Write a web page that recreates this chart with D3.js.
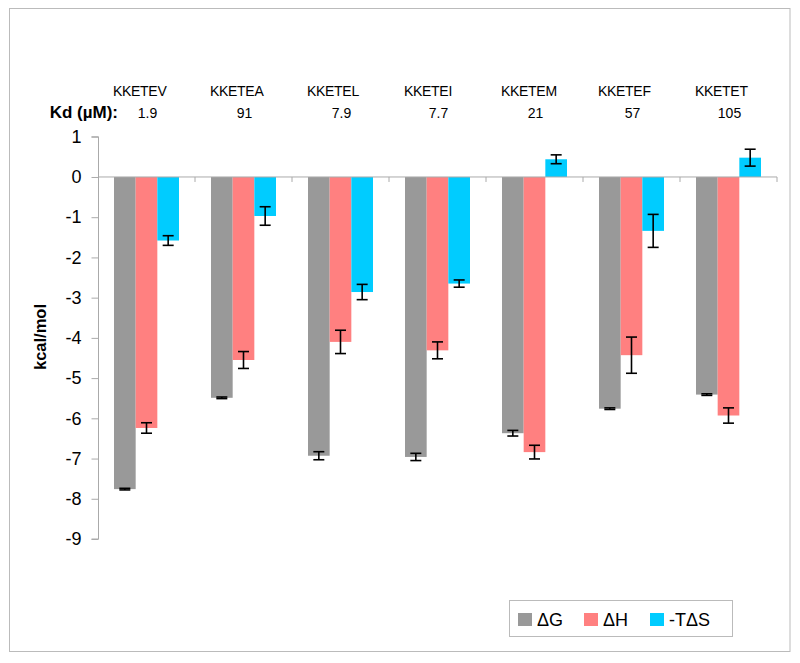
<!DOCTYPE html>
<html><head><meta charset="utf-8">
<script src="https://cdn.jsdelivr.net/npm/d3@7"></script>
<style>body{margin:0;background:#fff;}svg{display:block;font-family:"Liberation Sans",Arial,Helvetica,sans-serif;}</style>
</head><body><svg id="c" width="800" height="663"></svg>
<script>
const peptides = ["KKETEV","KKETEA","KKETEL","KKETEI","KKETEM","KKETEF","KKETET"];
const kdValues = ["1.9","91","7.9","7.7","21","57","105"];
const seriesNames = ["ΔG","ΔH","-TΔS"];
const dG    = [-7.76,-5.49,-6.93,-6.96,-6.37,-5.76,-5.41];
const dGErr = [0.02,0.02,0.10,0.09,0.07,0.02,0.02];
const dH    = [-6.24,-4.55,-4.10,-4.31,-6.84,-4.43,-5.93];
const dHErr = [0.13,0.21,0.29,0.21,0.17,0.45,0.19];
const TdS   = [-1.58,-0.97,-2.86,-2.65,0.44,-1.34,0.48];
const TdSErr= [0.12,0.23,0.19,0.09,0.11,0.41,0.21];
const yTicks = [1,0,-1,-2,-3,-4,-5,-6,-7,-8,-9];
const colors = ["#999999","#ff8080","#00ccff"];

const values = [dG,dH,TdS], errs=[dGErr,dHErr,TdSErr];
const svg = d3.select("#c");
svg.append("rect").attr("x",9.5).attr("y",8.5).attr("width",780.5).attr("height",643).attr("fill","#fff").attr("stroke","#bbb").attr("stroke-width",1);

const x0 = d3.scaleBand().domain(peptides).range([98,777]).padding(0);
const x1 = d3.scaleBand().domain(seriesNames).range([16, x0.bandwidth()-16]).padding(0);
const y = d3.scaleLinear().domain([-9,1]).range([539,136.75]);

// y axis
const yAxis = d3.axisLeft(y).tickValues(yTicks).tickSize(7).tickPadding(10).tickFormat(d3.format("d"));
const ga = svg.append("g").attr("transform","translate(98.5,0)").call(yAxis);
ga.select(".domain").attr("stroke","#aaa").attr("d","M-7,"+y(1)+"H0V"+y(-9)+"H-7");
ga.selectAll(".tick line").attr("stroke","#aaa");
ga.selectAll(".tick text").attr("font-size",18).attr("fill","#000").text(d=>d<0?"-"+Math.abs(d):d);

// bars
const data = [];
peptides.forEach((p,i)=>seriesNames.forEach((s,j)=>data.push({p,s,j,v:values[j][i],e:errs[j][i]})));
svg.append("g").selectAll("rect").data(data).join("rect")
  .attr("x",d=>x0(d.p)+x1(d.s)).attr("width",x1.bandwidth())
  .attr("y",d=>y(Math.max(0,d.v))).attr("height",d=>Math.abs(y(d.v)-y(0)))
  .attr("fill",d=>colors[d.j]);

// x axis at 0
const xg = svg.append("g").attr("transform","translate(0,"+y(0)+")");
xg.append("line").attr("x1",98).attr("x2",777).attr("stroke","#aaa");
const bounds = peptides.map(p=>x0(p)).concat([x0.range()[1]]);
xg.selectAll("line.t").data(bounds.slice(1)).join("line").attr("class","t")
  .attr("x1",d=>d).attr("x2",d=>d).attr("y1",0).attr("y2",5).attr("stroke","#aaa");

// error bars
const eg = svg.append("g").attr("stroke","#000").attr("stroke-width",1.6);
data.forEach(d=>{
  const cx = x0(d.p)+x1(d.s)+x1.bandwidth()/2;
  const y1=y(d.v-d.e), y2=y(d.v+d.e);
  eg.append("line").attr("x1",cx).attr("x2",cx).attr("y1",y1).attr("y2",y2);
  eg.append("line").attr("x1",cx-5.5).attr("x2",cx+5.5).attr("y1",y1).attr("y2",y1);
  eg.append("line").attr("x1",cx-5.5).attr("x2",cx+5.5).attr("y1",y2).attr("y2",y2);
});

// top labels
svg.append("g").selectAll("text").data(peptides).join("text")
  .attr("x",d=>x0(d)+x1.range()[0]-1).attr("y",96).attr("font-size",14).attr("letter-spacing",-0.3).text(d=>d);
svg.append("g").selectAll("text").data(kdValues).join("text")
  .attr("x",(d,i)=>x0(peptides[i])+x0.bandwidth()/2+1).attr("y",118).attr("text-anchor","middle").attr("font-size",14).text(d=>d);
svg.append("text").attr("x",118).attr("y",118).attr("text-anchor","end").attr("font-size",17).attr("font-weight","bold").text("Kd (µM):");

// y title
svg.append("text").attr("transform","translate(46,337) rotate(-90)").attr("text-anchor","middle").attr("font-size",16.5).attr("font-weight","bold").text("kcal/mol");

// legend
const lg = svg.append("g");
lg.append("rect").attr("x",509.5).attr("y",600.5).attr("width",223).attr("height",36).attr("fill","#fff").attr("stroke","#bbb");
const legX = [518,584,650];
seriesNames.forEach((s,j)=>{
  lg.append("rect").attr("x",legX[j]).attr("y",613).attr("width",14).attr("height",13).attr("fill",colors[j]);
  lg.append("text").attr("x",legX[j]+19).attr("y",626).attr("font-size",18).text(s);
});
</script></body></html>
